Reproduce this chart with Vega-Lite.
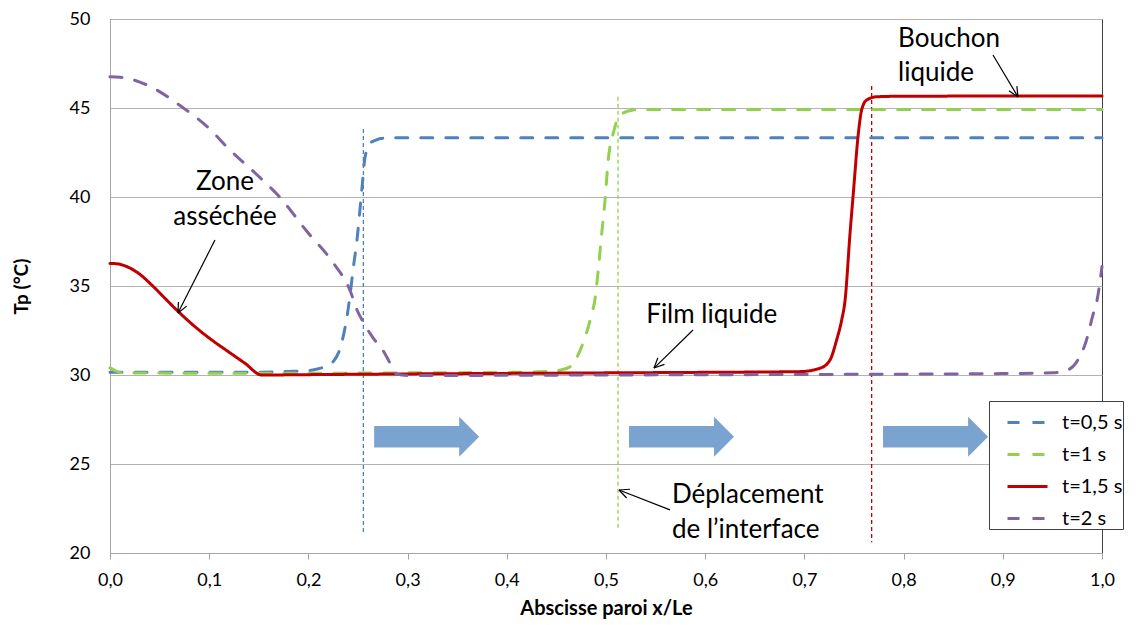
{
  "$schema": "https://vega.github.io/schema/vega-lite/v6.json",
  "width": 992,
  "height": 534,
  "autosize": {"type": "none"},
  "padding": {"left": 110, "top": 19, "right": 34, "bottom": 72},
  "background": "white",
  "config": {
    "font": "Lato",
    "view": {"stroke": "#404040", "strokeWidth": 1},
    "axis": {"labelColor": "#000000", "titleColor": "#000000", "domainColor": "#A6A6A6", "tickColor": "#A6A6A6", "gridColor": "#B3B3B3", "labelFont": "Lato", "titleFont": "Lato"}
  },
  "datasets": {
    "curves": [
      {"x": 0, "T": 30.15, "serie": "t=0,5 s"}, {"x": 0.05, "T": 30.15, "serie": "t=0,5 s"}, {"x": 0.1, "T": 30.15, "serie": "t=0,5 s"}, {"x": 0.15, "T": 30.16, "serie": "t=0,5 s"}, {"x": 0.18, "T": 30.2, "serie": "t=0,5 s"}, {"x": 0.2, "T": 30.25, "serie": "t=0,5 s"}, {"x": 0.21, "T": 30.35, "serie": "t=0,5 s"}, {"x": 0.22, "T": 30.55, "serie": "t=0,5 s"}, {"x": 0.225, "T": 30.75, "serie": "t=0,5 s"}, {"x": 0.232, "T": 31.5, "serie": "t=0,5 s"}, {"x": 0.236, "T": 32.4, "serie": "t=0,5 s"}, {"x": 0.239, "T": 33.3, "serie": "t=0,5 s"}, {"x": 0.242, "T": 34.5, "serie": "t=0,5 s"}, {"x": 0.245, "T": 35.9, "serie": "t=0,5 s"}, {"x": 0.249, "T": 37.6, "serie": "t=0,5 s"}, {"x": 0.254, "T": 40.5, "serie": "t=0,5 s"}, {"x": 0.257, "T": 42.2, "serie": "t=0,5 s"}, {"x": 0.262, "T": 43.0, "serie": "t=0,5 s"}, {"x": 0.268, "T": 43.2, "serie": "t=0,5 s"}, {"x": 0.275, "T": 43.3, "serie": "t=0,5 s"}, {"x": 0.3, "T": 43.33, "serie": "t=0,5 s"}, {"x": 0.5, "T": 43.33, "serie": "t=0,5 s"}, {"x": 0.7, "T": 43.33, "serie": "t=0,5 s"}, {"x": 1.0, "T": 43.33, "serie": "t=0,5 s"},
      {"x": 0, "T": 30.4, "serie": "t=1 s"}, {"x": 0.005, "T": 30.25, "serie": "t=1 s"}, {"x": 0.012, "T": 30.12, "serie": "t=1 s"}, {"x": 0.1, "T": 30.1, "serie": "t=1 s"}, {"x": 0.2, "T": 30.1, "serie": "t=1 s"}, {"x": 0.3, "T": 30.12, "serie": "t=1 s"}, {"x": 0.4, "T": 30.15, "serie": "t=1 s"}, {"x": 0.44, "T": 30.2, "serie": "t=1 s"}, {"x": 0.454, "T": 30.28, "serie": "t=1 s"}, {"x": 0.464, "T": 30.47, "serie": "t=1 s"}, {"x": 0.474, "T": 31.4, "serie": "t=1 s"}, {"x": 0.48, "T": 32.3, "serie": "t=1 s"}, {"x": 0.485, "T": 33.3, "serie": "t=1 s"}, {"x": 0.489, "T": 34.3, "serie": "t=1 s"}, {"x": 0.492, "T": 35.8, "serie": "t=1 s"}, {"x": 0.4956, "T": 37.9, "serie": "t=1 s"}, {"x": 0.499, "T": 39.8, "serie": "t=1 s"}, {"x": 0.5023, "T": 42.1, "serie": "t=1 s"}, {"x": 0.5074, "T": 43.6, "serie": "t=1 s"}, {"x": 0.5141, "T": 44.6, "serie": "t=1 s"}, {"x": 0.5275, "T": 44.89, "serie": "t=1 s"}, {"x": 0.54, "T": 44.92, "serie": "t=1 s"}, {"x": 0.7, "T": 44.92, "serie": "t=1 s"}, {"x": 1.0, "T": 44.92, "serie": "t=1 s"},
      {"x": 0, "T": 36.27, "serie": "t=1,5 s"}, {"x": 0.008, "T": 36.24, "serie": "t=1,5 s"}, {"x": 0.0151, "T": 36.13, "serie": "t=1,5 s"}, {"x": 0.0286, "T": 35.72, "serie": "t=1,5 s"}, {"x": 0.042, "T": 35.06, "serie": "t=1,5 s"}, {"x": 0.0554, "T": 34.31, "serie": "t=1,5 s"}, {"x": 0.0689, "T": 33.56, "serie": "t=1,5 s"}, {"x": 0.0857, "T": 32.71, "serie": "t=1,5 s"}, {"x": 0.1025, "T": 31.97, "serie": "t=1,5 s"}, {"x": 0.1193, "T": 31.31, "serie": "t=1,5 s"}, {"x": 0.136, "T": 30.66, "serie": "t=1,5 s"}, {"x": 0.1529, "T": 30.0, "serie": "t=1,5 s"}, {"x": 0.2, "T": 30.02, "serie": "t=1,5 s"}, {"x": 0.3, "T": 30.06, "serie": "t=1,5 s"}, {"x": 0.4, "T": 30.09, "serie": "t=1,5 s"}, {"x": 0.5, "T": 30.12, "serie": "t=1,5 s"}, {"x": 0.6, "T": 30.15, "serie": "t=1,5 s"}, {"x": 0.6956, "T": 30.19, "serie": "t=1,5 s"}, {"x": 0.7157, "T": 30.38, "serie": "t=1,5 s"}, {"x": 0.7258, "T": 30.84, "serie": "t=1,5 s"}, {"x": 0.7325, "T": 31.97, "serie": "t=1,5 s"}, {"x": 0.7376, "T": 33.09, "serie": "t=1,5 s"}, {"x": 0.741, "T": 34.2, "serie": "t=1,5 s"}, {"x": 0.746, "T": 37.96, "serie": "t=1,5 s"}, {"x": 0.7493, "T": 40.2, "serie": "t=1,5 s"}, {"x": 0.7544, "T": 43.58, "serie": "t=1,5 s"}, {"x": 0.7577, "T": 44.89, "serie": "t=1,5 s"}, {"x": 0.7628, "T": 45.45, "serie": "t=1,5 s"}, {"x": 0.7729, "T": 45.63, "serie": "t=1,5 s"}, {"x": 0.796, "T": 45.66, "serie": "t=1,5 s"}, {"x": 0.9, "T": 45.67, "serie": "t=1,5 s"}, {"x": 1.0, "T": 45.67, "serie": "t=1,5 s"},
      {"x": 0, "T": 46.75, "serie": "t=2 s"}, {"x": 0.01, "T": 46.73, "serie": "t=2 s"}, {"x": 0.037, "T": 46.3, "serie": "t=2 s"}, {"x": 0.074, "T": 45.0, "serie": "t=2 s"}, {"x": 0.1, "T": 43.85, "serie": "t=2 s"}, {"x": 0.118, "T": 42.8, "serie": "t=2 s"}, {"x": 0.151, "T": 41.1, "serie": "t=2 s"}, {"x": 0.171, "T": 40.0, "serie": "t=2 s"}, {"x": 0.198, "T": 38.1, "serie": "t=2 s"}, {"x": 0.225, "T": 36.3, "serie": "t=2 s"}, {"x": 0.242, "T": 34.75, "serie": "t=2 s"}, {"x": 0.249, "T": 33.65, "serie": "t=2 s"}, {"x": 0.255, "T": 33.0, "serie": "t=2 s"}, {"x": 0.265, "T": 32.1, "serie": "t=2 s"}, {"x": 0.275, "T": 31.4, "serie": "t=2 s"}, {"x": 0.283, "T": 30.6, "serie": "t=2 s"}, {"x": 0.289, "T": 30.05, "serie": "t=2 s"}, {"x": 0.3, "T": 29.97, "serie": "t=2 s"}, {"x": 0.5, "T": 30.0, "serie": "t=2 s"}, {"x": 0.7, "T": 30.03, "serie": "t=2 s"}, {"x": 0.9, "T": 30.08, "serie": "t=2 s"}, {"x": 0.95, "T": 30.12, "serie": "t=2 s"}, {"x": 0.964, "T": 30.25, "serie": "t=2 s"}, {"x": 0.974, "T": 30.7, "serie": "t=2 s"}, {"x": 0.984, "T": 31.9, "serie": "t=2 s"}, {"x": 0.991, "T": 33.4, "serie": "t=2 s"}, {"x": 0.995, "T": 34.2, "serie": "t=2 s"}, {"x": 1.0, "T": 36.1, "serie": "t=2 s"}
    ],
    "interfaces": [
      {"x": 0.2554, "T": 43.82, "T2": 21.16, "serie": "t=0,5 s"},
      {"x": 0.5121, "T": 45.63, "T2": 21.25, "serie": "t=1 s"},
      {"x": 0.7678, "T": 46.24, "T2": 20.6, "serie": "t=1,5 s"}
    ],
    "blocks": [
      {"x": 0.3192, "T": 26.53},
      {"x": 0.5761, "T": 26.53},
      {"x": 0.8322, "T": 26.53}
    ],
    "pointers": [
      {"x": 0.1058, "T": 37.58, "x2": 0.0685, "T2": 33.48},
      {"x": 0.0685, "T": 33.48, "x2": 0.0773, "T2": 33.87},
      {"x": 0.0685, "T": 33.48, "x2": 0.069, "T2": 34.1},
      {"x": 0.5877, "T": 32.53, "x2": 0.5484, "T2": 30.39},
      {"x": 0.5484, "T": 30.39, "x2": 0.5589, "T2": 30.6},
      {"x": 0.5484, "T": 30.39, "x2": 0.5523, "T2": 30.97},
      {"x": 0.8901, "T": 47.98, "x2": 0.9153, "T2": 45.62},
      {"x": 0.9153, "T": 45.62, "x2": 0.9142, "T2": 46.23},
      {"x": 0.9153, "T": 45.62, "x2": 0.9062, "T2": 45.97},
      {"x": 0.5645, "T": 22.42, "x2": 0.5131, "T2": 23.54},
      {"x": 0.5131, "T": 23.54, "x2": 0.5208, "T2": 23.09},
      {"x": 0.5131, "T": 23.54, "x2": 0.5242, "T2": 23.58}
    ],
    "labelsCenter": [
      {"x": 0.1159, "T": 40.39, "label": "Zone"},
      {"x": 0.1159, "T": 38.43, "label": "asséchée"},
      {"x": 0.6066, "T": 32.94, "label": "Film liquide"}
    ],
    "labelsLeft": [
      {"x": 0.7944, "T": 48.44, "label": "Bouchon"},
      {"x": 0.7944, "T": 46.52, "label": "liquide"},
      {"x": 0.5665, "T": 22.81, "label": "Déplacement"},
      {"x": 0.5665, "T": 20.84, "label": "de l’interface"}
    ]
  },
  "encoding": {
    "x": {
      "field": "x", "type": "quantitative",
      "scale": {"domain": [0, 1], "nice": false, "zero": false},
      "axis": {
        "values": [0, 0.1, 0.2, 0.3, 0.4, 0.5, 0.6, 0.7, 0.8, 0.9, 1.0],
        "labelExpr": "replace(format(datum.value, '.1f'), '.', ',')",
        "labelFlush": false,
        "grid": false, "tickSize": 6, "labelFontSize": 18, "labelPadding": 12,
        "title": "Abscisse paroi x/Le", "titleFontSize": 20, "titleFontWeight": "bold", "titlePadding": 9
      }
    },
    "y": {
      "field": "T", "type": "quantitative",
      "scale": {"domain": [20, 50], "nice": false, "zero": false},
      "axis": {
        "values": [20, 25, 30, 35, 40, 45, 50],
        "labelFlush": false,
        "grid": true, "tickSize": 0, "labelFontSize": 18, "labelPadding": 20,
        "title": "Tp (°C)", "titleFontSize": 19, "titleFontWeight": "bold", "titlePadding": 38
      }
    }
  },
  "layer": [
    {
      "data": {"name": "blocks"},
      "mark": {"type": "point", "shape": "M-1,-0.203L0.62,-0.203L0.62,-0.38L1,0L0.62,0.38L0.62,0.203L-1,0.203Z", "size": 11025, "filled": true, "color": "#7BA3D0", "fill": "#7BA3D0", "opacity": 1, "strokeWidth": 0}
    },
    {
      "data": {"name": "interfaces"},
      "mark": {"type": "rule", "strokeDash": [4, 3], "strokeWidth": 1.3},
      "encoding": {
        "y2": {"field": "T2"},
        "color": {"field": "serie", "type": "nominal"}
      }
    },
    {
      "data": {"name": "curves"},
      "mark": {"type": "line", "strokeWidth": 3, "interpolate": "monotone", "strokeCap": "round"},
      "encoding": {
        "color": {
          "field": "serie", "type": "nominal",
          "scale": {"domain": ["t=0,5 s", "t=1 s", "t=1,5 s", "t=2 s"], "range": ["#4F81BD", "#92D050", "#C00000", "#8064A2"]},
          "legend": {"title": null, "orient": "none", "legendX": 879, "legendY": 382, "strokeColor": "#404040", "fillColor": "white", "padding": 0, "symbolType": "stroke", "symbolSize": 1600, "symbolStrokeWidth": 3, "symbolOffset": 17, "labelFontSize": 20, "labelOffset": 13, "rowPadding": -3.5, "labelLimit": 400}
        },
        "strokeDash": {
          "field": "serie", "type": "nominal",
          "scale": {"domain": ["t=0,5 s", "t=1 s", "t=1,5 s", "t=2 s"], "range": [[12, 13], [12, 13], [1, 0], [12, 13]]},
          "legend": {"title": null, "orient": "none", "legendX": 879, "legendY": 382, "strokeColor": "#404040", "fillColor": "white", "padding": 0, "symbolType": "stroke", "symbolSize": 1600, "symbolStrokeWidth": 3, "symbolOffset": 17, "labelFontSize": 20, "labelOffset": 13, "rowPadding": -3.5, "labelLimit": 400}
        }
      }
    },
    {
      "data": {"name": "pointers"},
      "mark": {"type": "rule", "color": "#000000", "strokeWidth": 1.2},
      "encoding": {
        "x2": {"field": "x2"},
        "y2": {"field": "T2"}
      }
    },
    {
      "data": {"name": "labelsCenter"},
      "mark": {"type": "text", "align": "center", "baseline": "alphabetic", "fontSize": 26, "font": "Lato", "color": "#000000"},
      "encoding": {"text": {"field": "label"}}
    },
    {
      "data": {"name": "labelsLeft"},
      "mark": {"type": "text", "align": "left", "baseline": "alphabetic", "fontSize": 26, "font": "Lato", "color": "#000000"},
      "encoding": {"text": {"field": "label"}}
    }
  ]
}
